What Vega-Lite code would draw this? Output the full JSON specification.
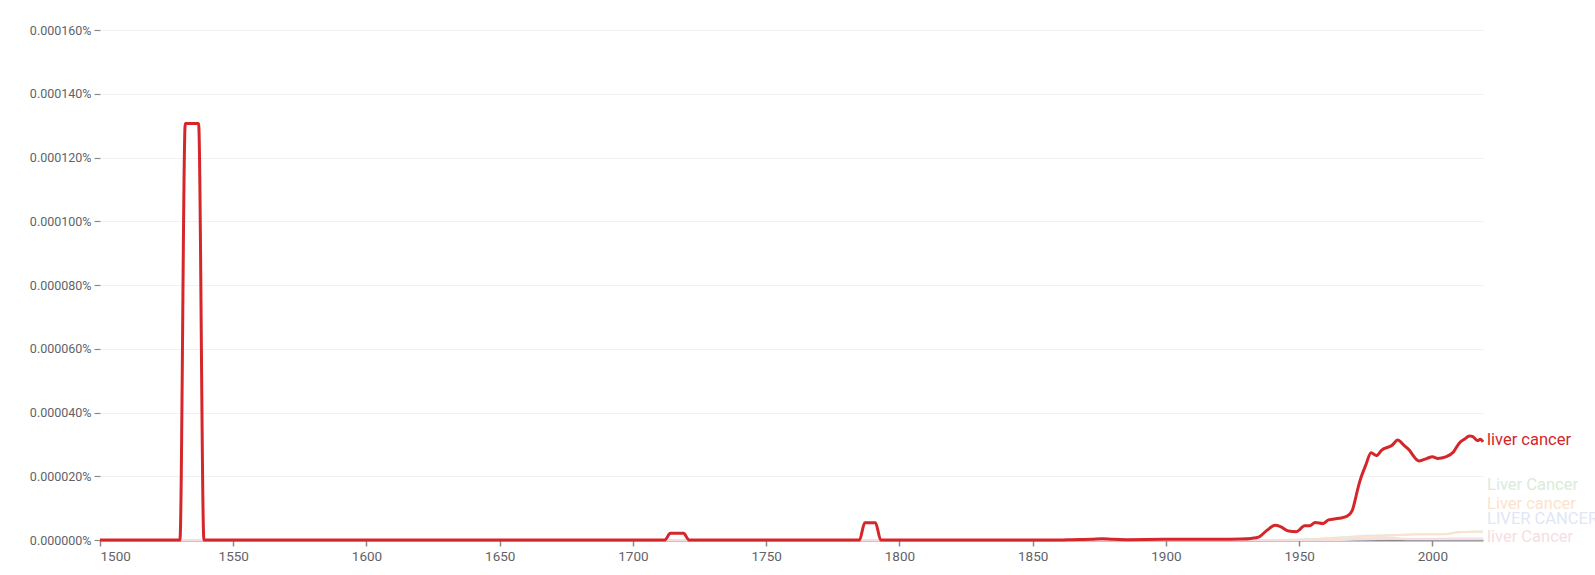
{
  "$schema": "https://vega.github.io/schema/vega-lite/v6.json",
  "width": 1383,
  "height": 510,
  "autosize": "none",
  "padding": {"left": 100, "top": 30, "right": 112, "bottom": 35},
  "background": "white",
  "config": {"font": "Roboto", "view": {"stroke": null}},
  "datasets": {
    "series": [
      {"series": "Liver Cancer", "year": 1500, "value": 0},
      {"series": "Liver Cancer", "year": 1940, "value": 0},
      {"series": "Liver Cancer", "year": 1955, "value": 0.0000003},
      {"series": "Liver Cancer", "year": 1965, "value": 0.0000008},
      {"series": "Liver Cancer", "year": 1975, "value": 0.0000013},
      {"series": "Liver Cancer", "year": 1985, "value": 0.0000016},
      {"series": "Liver Cancer", "year": 1995, "value": 0.0000018},
      {"series": "Liver Cancer", "year": 2005, "value": 0.0000019},
      {"series": "Liver Cancer", "year": 2010, "value": 0.0000025},
      {"series": "Liver Cancer", "year": 2019, "value": 0.0000027},
      {"series": "Liver cancer", "year": 1500, "value": 0},
      {"series": "Liver cancer", "year": 1950, "value": 0},
      {"series": "Liver cancer", "year": 1965, "value": 0.0000005},
      {"series": "Liver cancer", "year": 1975, "value": 0.000001},
      {"series": "Liver cancer", "year": 1985, "value": 0.0000014},
      {"series": "Liver cancer", "year": 1995, "value": 0.0000018},
      {"series": "Liver cancer", "year": 2005, "value": 0.0000018},
      {"series": "Liver cancer", "year": 2010, "value": 0.0000024},
      {"series": "Liver cancer", "year": 2019, "value": 0.0000026},
      {"series": "LIVER CANCER", "year": 1500, "value": 0},
      {"series": "LIVER CANCER", "year": 1960, "value": 0},
      {"series": "LIVER CANCER", "year": 1980, "value": 0.0000003},
      {"series": "LIVER CANCER", "year": 2000, "value": 0.0000004},
      {"series": "LIVER CANCER", "year": 2019, "value": 0.0000005},
      {"series": "liver Cancer", "year": 1500, "value": 0},
      {"series": "liver Cancer", "year": 1960, "value": 0},
      {"series": "liver Cancer", "year": 1975, "value": 0.0000005},
      {"series": "liver Cancer", "year": 1985, "value": 0.0000007},
      {"series": "liver Cancer", "year": 1990, "value": 0.0000002},
      {"series": "liver Cancer", "year": 2019, "value": 0.0000002},
      {"series": "liver cancer", "year": 1500, "value": 0},
      {"series": "liver cancer", "year": 1530, "value": 0},
      {"series": "liver cancer", "year": 1532, "value": 0.0001307},
      {"series": "liver cancer", "year": 1537, "value": 0.0001307},
      {"series": "liver cancer", "year": 1539, "value": 0},
      {"series": "liver cancer", "year": 1712, "value": 0},
      {"series": "liver cancer", "year": 1714, "value": 0.0000021},
      {"series": "liver cancer", "year": 1719, "value": 0.0000021},
      {"series": "liver cancer", "year": 1721, "value": 0},
      {"series": "liver cancer", "year": 1785, "value": 0},
      {"series": "liver cancer", "year": 1787, "value": 0.0000054},
      {"series": "liver cancer", "year": 1791, "value": 0.0000054},
      {"series": "liver cancer", "year": 1793, "value": 0},
      {"series": "liver cancer", "year": 1860, "value": 0},
      {"series": "liver cancer", "year": 1865, "value": 0.0000001},
      {"series": "liver cancer", "year": 1872, "value": 0.0000002},
      {"series": "liver cancer", "year": 1876, "value": 0.0000004},
      {"series": "liver cancer", "year": 1880, "value": 0.0000002},
      {"series": "liver cancer", "year": 1885, "value": 0.0000001},
      {"series": "liver cancer", "year": 1900, "value": 0.0000002},
      {"series": "liver cancer", "year": 1910, "value": 0.0000002},
      {"series": "liver cancer", "year": 1920, "value": 0.0000002},
      {"series": "liver cancer", "year": 1928, "value": 0.0000003},
      {"series": "liver cancer", "year": 1932, "value": 0.0000005},
      {"series": "liver cancer", "year": 1935, "value": 0.000001},
      {"series": "liver cancer", "year": 1938, "value": 0.0000031},
      {"series": "liver cancer", "year": 1941, "value": 0.0000046},
      {"series": "liver cancer", "year": 1943, "value": 0.0000042},
      {"series": "liver cancer", "year": 1946, "value": 0.0000028},
      {"series": "liver cancer", "year": 1949, "value": 0.0000026},
      {"series": "liver cancer", "year": 1950, "value": 0.0000031},
      {"series": "liver cancer", "year": 1952, "value": 0.0000045},
      {"series": "liver cancer", "year": 1954, "value": 0.0000045},
      {"series": "liver cancer", "year": 1956, "value": 0.0000055},
      {"series": "liver cancer", "year": 1959, "value": 0.0000052},
      {"series": "liver cancer", "year": 1961, "value": 0.0000063},
      {"series": "liver cancer", "year": 1965, "value": 0.0000068},
      {"series": "liver cancer", "year": 1968, "value": 0.0000075},
      {"series": "liver cancer", "year": 1970, "value": 0.0000094},
      {"series": "liver cancer", "year": 1971, "value": 0.0000125},
      {"series": "liver cancer", "year": 1972, "value": 0.000016},
      {"series": "liver cancer", "year": 1973, "value": 0.000019},
      {"series": "liver cancer", "year": 1975, "value": 0.0000235},
      {"series": "liver cancer", "year": 1977, "value": 0.0000274},
      {"series": "liver cancer", "year": 1979, "value": 0.0000265},
      {"series": "liver cancer", "year": 1981, "value": 0.0000282},
      {"series": "liver cancer", "year": 1985, "value": 0.0000298},
      {"series": "liver cancer", "year": 1987, "value": 0.0000314},
      {"series": "liver cancer", "year": 1989, "value": 0.00003},
      {"series": "liver cancer", "year": 1991, "value": 0.0000285},
      {"series": "liver cancer", "year": 1995, "value": 0.0000248},
      {"series": "liver cancer", "year": 1998, "value": 0.0000256},
      {"series": "liver cancer", "year": 2000, "value": 0.0000261},
      {"series": "liver cancer", "year": 2002, "value": 0.0000256},
      {"series": "liver cancer", "year": 2005, "value": 0.0000261},
      {"series": "liver cancer", "year": 2008, "value": 0.0000277},
      {"series": "liver cancer", "year": 2010, "value": 0.0000303},
      {"series": "liver cancer", "year": 2012, "value": 0.0000316},
      {"series": "liver cancer", "year": 2014, "value": 0.0000326},
      {"series": "liver cancer", "year": 2015, "value": 0.0000325},
      {"series": "liver cancer", "year": 2017, "value": 0.0000312},
      {"series": "liver cancer", "year": 2018, "value": 0.0000316},
      {"series": "liver cancer", "year": 2019, "value": 0.0000308}
    ]
  },
  "data": {"name": "series"},
  "encoding": {
    "x": {
      "field": "year",
      "type": "quantitative",
      "scale": {"domain": [1500, 2019], "nice": false, "zero": false},
      "axis": {
        "title": null,
        "values": [1500, 1550, 1600, 1650, 1700, 1750, 1800, 1850, 1900, 1950, 2000],
        "format": "d",
        "grid": false,
        "domainColor": "#8a8a8a",
        "domainWidth": 2,
        "tickColor": "#8a8a8a",
        "tickSize": 6,
        "tickWidth": 1.5,
        "labelFontSize": 13.5,
        "labelColor": "#5f6368",
        "labelPadding": 3
      }
    },
    "y": {
      "field": "value",
      "type": "quantitative",
      "scale": {"domain": [0, 0.00016], "nice": false},
      "axis": {
        "title": null,
        "values": [0, 0.00002, 0.00004, 0.00006, 0.00008, 0.0001, 0.00012, 0.00014, 0.00016],
        "labelExpr": "format(datum.value, '.6f') + '%'",
        "domain": false,
        "gridColor": "#f1f1f1",
        "gridWidth": 1,
        "tickColor": "#8a8a8a",
        "tickSize": 6,
        "tickWidth": 1.2,
        "labelFontSize": 12.5,
        "labelColor": "#5f6368",
        "labelPadding": 3
      }
    },
    "color": {
      "field": "series",
      "type": "nominal",
      "legend": null,
      "scale": {
        "domain": ["Liver Cancer", "Liver cancer", "LIVER CANCER", "liver Cancer", "liver cancer"],
        "range": ["#d9ebda", "#fce3cc", "#dfe6f6", "#f7dde2", "#d5262a"]
      }
    }
  },
  "layer": [
    {
      "transform": [{"filter": "datum.series !== 'liver cancer'"}],
      "mark": {"type": "line", "interpolate": "monotone", "strokeWidth": 2}
    },
    {
      "transform": [{"filter": "datum.series === 'liver cancer'"}],
      "mark": {"type": "line", "interpolate": "monotone", "strokeWidth": 3}
    },
    {
      "transform": [{"filter": "datum.series === 'liver cancer' && datum.year === 2019"}],
      "mark": {"type": "text", "align": "left", "baseline": "middle", "dx": 4, "dy": -2, "fontSize": 16.5},
      "encoding": {"text": {"field": "series"}}
    },
    {
      "transform": [{"filter": "datum.series === 'Liver Cancer' && datum.year === 2019"}],
      "mark": {"type": "text", "align": "left", "baseline": "middle", "dx": 4, "dy": -46, "fontSize": 16.5},
      "encoding": {"text": {"field": "series"}}
    },
    {
      "transform": [{"filter": "datum.series === 'Liver cancer' && datum.year === 2019"}],
      "mark": {"type": "text", "align": "left", "baseline": "middle", "dx": 4, "dy": -28, "fontSize": 16.5},
      "encoding": {"text": {"field": "series"}}
    },
    {
      "transform": [{"filter": "datum.series === 'LIVER CANCER' && datum.year === 2019"}],
      "mark": {"type": "text", "align": "left", "baseline": "middle", "dx": 4, "dy": -19, "fontSize": 16.5},
      "encoding": {"text": {"field": "series"}}
    },
    {
      "transform": [{"filter": "datum.series === 'liver Cancer' && datum.year === 2019"}],
      "mark": {"type": "text", "align": "left", "baseline": "middle", "dx": 4, "dy": -2, "fontSize": 16.5},
      "encoding": {"text": {"field": "series"}}
    }
  ]
}
